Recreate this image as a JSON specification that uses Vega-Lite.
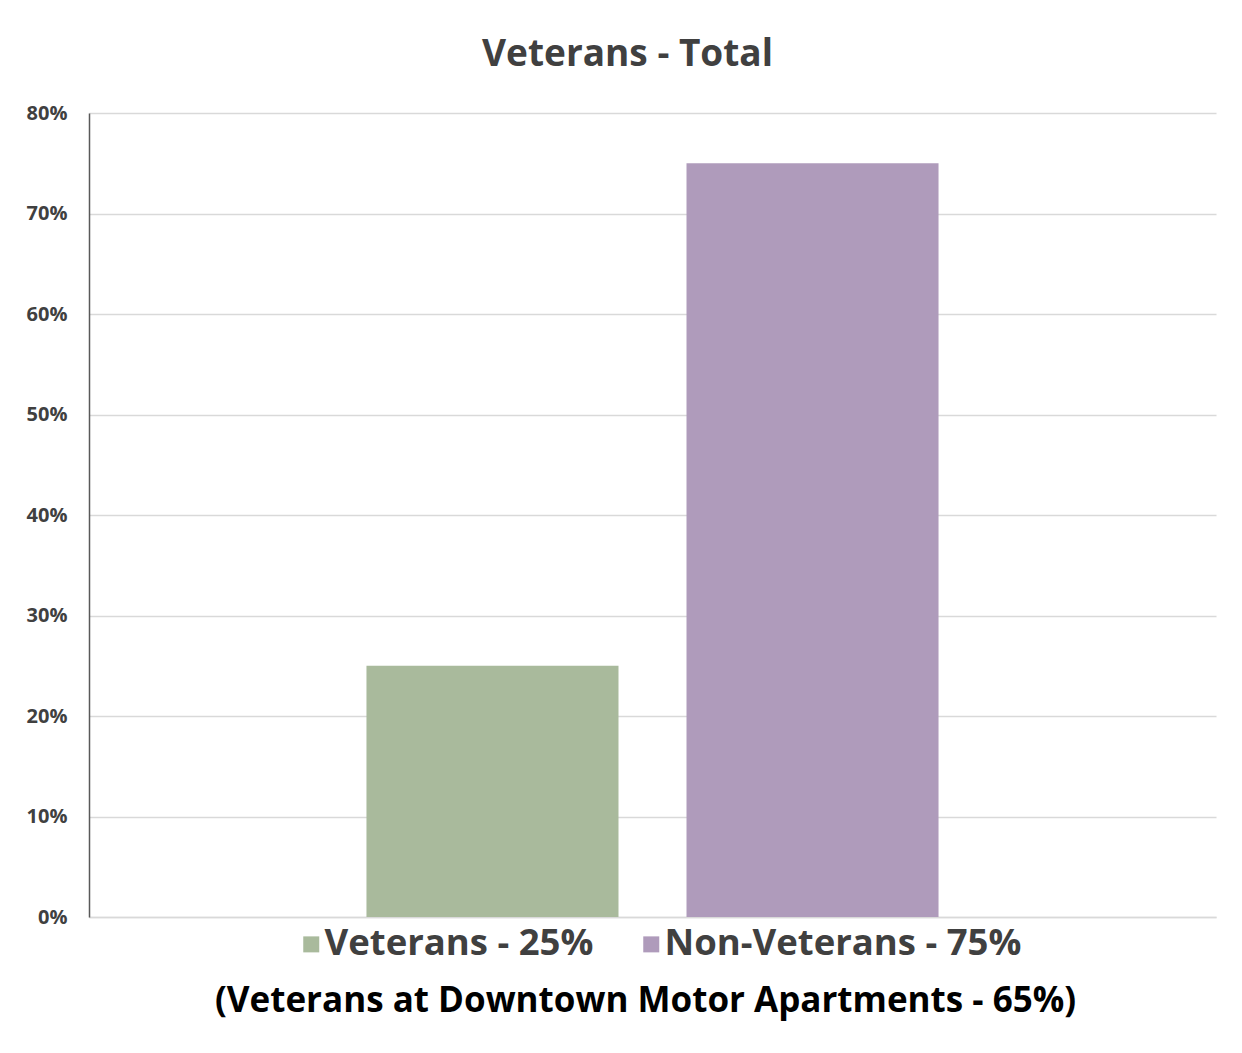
{
  "$schema": "https://vega.github.io/schema/vega-lite/v6.json",
  "width": 1127,
  "height": 804,
  "autosize": "none",
  "padding": {"left": 89, "top": 113, "right": 26, "bottom": 136},
  "background": "white",
  "title": {
    "text": "Veterans - Total",
    "anchor": "middle",
    "dx": -25,
    "offset": 29,
    "font": "Open Sans",
    "fontSize": 37,
    "fontWeight": "bold",
    "color": "#404040"
  },
  "data": {
    "values": [
      {"category": "Veterans - 25%", "share": 0.25},
      {"category": "Non-Veterans - 75%", "share": 0.75}
    ]
  },
  "mark": {"type": "bar"},
  "encoding": {
    "x": {
      "field": "category",
      "type": "nominal",
      "sort": ["Veterans - 25%", "Non-Veterans - 75%"],
      "scale": {"paddingInner": 0.2125, "paddingOuter": 0.867},
      "axis": {
        "labels": false,
        "ticks": false,
        "domain": true,
        "domainColor": "#d9d9d9",
        "domainWidth": 1.5,
        "title": "(Veterans at Downtown Motor Apartments - 65%)",
        "titleFont": "Open Sans",
        "titleFontSize": 35,
        "titleFontWeight": "bold",
        "titleColor": "#000000",
        "titleX": 556,
        "titleY": 94,
        "titleBaseline": "alphabetic",
        "titleAlign": "center",
        "titleAnchor": null
      }
    },
    "y": {
      "field": "share",
      "type": "quantitative",
      "scale": {"domain": [0, 0.8]},
      "axis": {
        "title": null,
        "values": [0, 0.1, 0.2, 0.3, 0.4, 0.5, 0.6, 0.7, 0.8],
        "format": ".0%",
        "labelFont": "Open Sans",
        "labelFontSize": 20,
        "labelFontWeight": "bold",
        "labelColor": "#404040",
        "labelPadding": 22,
        "ticks": false,
        "domain": true,
        "domainColor": "#595959",
        "domainWidth": 1.5,
        "grid": true,
        "gridColor": "#d9d9d9",
        "gridWidth": 1.5
      }
    },
    "color": {
      "field": "category",
      "type": "nominal",
      "sort": ["Veterans - 25%", "Non-Veterans - 75%"],
      "scale": {"domain": ["Veterans - 25%", "Non-Veterans - 75%"], "range": ["#a9ba9c", "#af9bbb"]},
      "legend": {
        "title": null,
        "orient": "none",
        "direction": "horizontal",
        "legendX": 204,
        "legendY": 813,
        "padding": 0,
        "symbolType": "square",
        "symbolSize": 256,
        "symbolStrokeWidth": 0,
        "symbolOpacity": 1,
        "labelFont": "Open Sans",
        "labelFontSize": 36.5,
        "labelFontWeight": "bold",
        "labelColor": "#404040",
        "labelOffset": -5,
        "columnPadding": 39,
        "labelLimit": 600
      }
    }
  },
  "config": {
    "view": {"stroke": null}
  }
}
